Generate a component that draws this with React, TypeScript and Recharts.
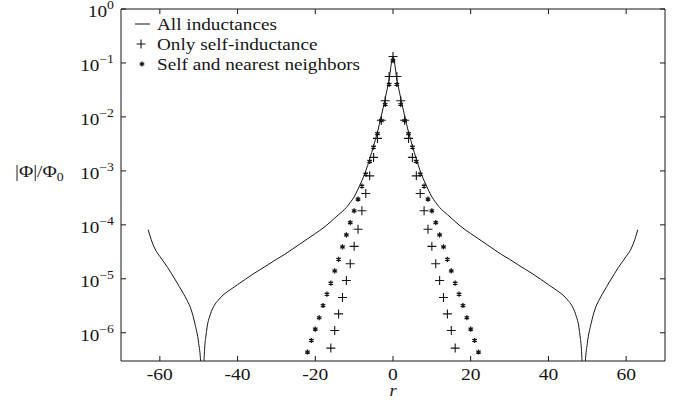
import React from "react";
import { ComposedChart, Line, Scatter, XAxis, YAxis, Legend } from "recharts";

const FONT = '"Liberation Serif", "DejaVu Serif", "Times New Roman", serif';
const INK = "#161616";
const TXT = { fontFamily: FONT };

const xTicks = [-60, -40, -20, 0, 20, 40, 60];
const yTicks = [1e-6, 1e-5, 1e-4, 1e-3, 1e-2, 1e-1, 1];

// "All inductances" curve
const lineR = [
  -63, -62, -61, -60, -58, -56, -54, -53, -52, -51,
  -50, -49.5, -49, -48.6, -48, -47, -46, -45, -44, -42,
  -40, -38, -36, -34, -32, -30, -28, -26, -24, -22,
  -20, -18, -16, -14, -13, -12, -11, -10, -9, -8,
  -7, -6, -5, -4, -3, -2, -1, 0, 1, 2,
  3, 4, 5, 6, 7, 8, 9, 10, 11, 12,
  13, 14, 16, 18, 20, 22, 24, 26, 28, 30,
  32, 34, 36, 38, 40, 42, 44, 45, 46, 47,
  48, 48.6, 49, 49.5, 50, 51, 52, 53, 54, 56,
  58, 60, 61, 62, 63,
];
const lineV = [
  8.1e-5, 4.8e-5, 3.3e-5, 2.6e-5, 1.62e-5, 9.5e-6, 5.4e-6, 4.0e-6, 2.75e-6, 1.5e-6,
  6.3e-7, 2.8e-7, 1e-9, 3.5e-7, 1.05e-6, 2.2e-6, 3.2e-6, 4.0e-6, 4.8e-6, 6.2e-6,
  7.8e-6, 9.8e-6, 1.23e-5, 1.51e-5, 1.86e-5, 2.3e-5, 2.8e-5, 3.5e-5, 4.4e-5, 5.5e-5,
  6.9e-5, 8.7e-5, 1.15e-4, 1.55e-4, 1.78e-4, 2.1e-4, 2.6e-4, 3.3e-4, 4.6e-4, 6.6e-4,
  1.0e-3, 1.66e-3, 2.9e-3, 5.2e-3, 1.05e-2, 2.2e-2, 5.0e-2, 1.32e-1, 5.0e-2, 2.2e-2,
  1.05e-2, 5.2e-3, 2.9e-3, 1.66e-3, 1.0e-3, 6.6e-4, 4.6e-4, 3.3e-4, 2.6e-4, 2.1e-4,
  1.78e-4, 1.55e-4, 1.15e-4, 8.7e-5, 6.9e-5, 5.5e-5, 4.4e-5, 3.5e-5, 2.8e-5, 2.3e-5,
  1.86e-5, 1.51e-5, 1.23e-5, 9.8e-6, 7.8e-6, 6.2e-6, 4.8e-6, 4.0e-6, 3.2e-6, 2.2e-6,
  1.05e-6, 3.5e-7, 1e-9, 2.8e-7, 6.3e-7, 1.5e-6, 2.75e-6, 4.0e-6, 5.4e-6, 9.5e-6,
  1.62e-5, 2.6e-5, 3.3e-5, 4.8e-5, 8.1e-5,
];

// "Only self-inductance" (+)
const plusR = [
  -16, -15, -14, -13, -12, -11, -10, -9, -8, -7, -6, -5, -4, -3, -2, -1, 0,
  1, 2, 3, 4, 5, 6, 7, 8, 9, 10, 11, 12, 13, 14, 15, 16,
];
const plusV = [
  5.2e-7, 1.1e-6, 2.24e-6, 4.5e-6, 9.3e-6, 1.9e-5, 4.0e-5, 8.3e-5, 1.82e-4, 3.8e-4,
  8.1e-4, 1.78e-3, 4.0e-3, 8.7e-3, 2.0e-2, 5.6e-2, 1.32e-1,
  5.6e-2, 2.0e-2, 8.7e-3, 4.0e-3, 1.78e-3, 8.1e-4, 3.8e-4, 1.82e-4, 8.3e-5, 4.0e-5,
  1.9e-5, 9.3e-6, 4.5e-6, 2.24e-6, 1.1e-6, 5.2e-7,
];

// "Self and nearest neighbors" (*)
const starR = [
  -22, -21, -20, -19, -18, -17, -16, -15, -14, -13, -12, -11, -10, -9, -8, -7, -6,
  -5, -4, -3, -2, -1, 0, 1, 2, 3, 4, 5, 6, 7, 8, 9, 10, 11, 12, 13, 14, 15, 16,
  17, 18, 19, 20, 21, 22,
];
const starV = [
  4.4e-7, 7.2e-7, 1.17e-6, 1.9e-6, 3.2e-6, 5.2e-6, 8.3e-6, 1.4e-5, 2.3e-5, 3.9e-5,
  6.5e-5, 1.1e-4, 1.82e-4, 3.0e-4, 5.2e-4, 8.7e-4, 1.5e-3, 2.75e-3, 4.9e-3, 8.5e-3,
  1.7e-2, 4.0e-2, 1.1e-1, 4.0e-2, 1.7e-2, 8.5e-3, 4.9e-3, 2.75e-3, 1.5e-3, 8.7e-4,
  5.2e-4, 3.0e-4, 1.82e-4, 1.1e-4, 6.5e-5, 3.9e-5, 2.3e-5, 1.4e-5, 8.3e-6, 5.2e-6,
  3.2e-6, 1.9e-6, 1.17e-6, 7.2e-7, 4.4e-7,
];

const lineData = lineR.map((r, i) => ({ r, v: lineV[i] }));
const plusData = plusR.map((r, i) => ({ r, v: plusV[i] }));
const starData = starR.map((r, i) => ({ r, v: starV[i] }));

function PlusShape({ cx, cy }: any) {
  if (cx == null || cy == null) return null;
  const s = 4.5;
  return (
    <path
      d={`M${cx - s},${cy}H${cx + s}M${cx},${cy - s}V${cy + s}`}
      stroke={INK}
      strokeWidth={1.1}
      fill="none"
    />
  );
}

function StarShape({ cx, cy }: any) {
  if (cx == null || cy == null) return null;
  const s = 2.6;
  const dx = s * 0.87;
  const dy = s * 0.5;
  return (
    <path
      d={`M${cx},${cy - s}V${cy + s}M${cx - dx},${cy - dy}L${cx + dx},${cy + dy}M${cx - dx},${cy + dy}L${cx + dx},${cy - dy}`}
      stroke={INK}
      strokeWidth={1.3}
      fill="none"
    />
  );
}

function BottomTick({ x, y, payload }: any) {
  return (
    <g>
      <line x1={x} x2={x} y1={y} y2={y - 5} stroke={INK} />
      <text
        transform={`translate(${x},${y + 19}) scale(1.15,1)`}
        textAnchor="middle"
        style={TXT}
        fontSize={17}
        fill={INK}
      >
        {String(payload.value)}
      </text>
    </g>
  );
}

function TopTick({ x, y }: any) {
  return <line x1={x} x2={x} y1={y} y2={y + 5} stroke={INK} />;
}

function LeftTick({ x, y, payload }: any) {
  const exp = Math.round(Math.log10(payload.value));
  const label = exp < 0 ? `\u2212${-exp}` : `${exp}`;
  return (
    <g>
      <line x1={x} x2={x + 5} y1={y} y2={y} stroke={INK} />
      <text
        transform={`translate(${x - 7},${y + 8}) scale(1.2,1)`}
        textAnchor="end"
        style={TXT}
        fontSize={16}
        fill={INK}
      >
        10
        <tspan dy={-8} fontSize={11.5}>
          {label}
        </tspan>
      </text>
    </g>
  );
}

function RightTick({ x, y }: any) {
  return <line x1={x} x2={x - 5} y1={y} y2={y} stroke={INK} />;
}

function XLabel({ viewBox }: any) {
  const cx = viewBox.x + viewBox.width / 2;
  return (
    <text
      transform={`translate(${cx},${viewBox.y + 35}) scale(1.15,1)`}
      textAnchor="middle"
      style={{ ...TXT, fontStyle: "italic" }}
      fontSize={16}
      fill={INK}
    >
      r
    </text>
  );
}

function YLabel() {
  return (
    <text
      transform="translate(15,177) scale(1.15,1)"
      style={TXT}
      fontSize={17}
      fill={INK}
    >
      |Φ|/Φ
      <tspan dy={4} fontSize={12}>
        0
      </tspan>
    </text>
  );
}

function LegendBox() {
  const items = [
    { label: "All inductances", kind: "line" },
    { label: "Only self-inductance", kind: "plus" },
    { label: "Self and nearest neighbors", kind: "star" },
  ];
  return (
    <svg width={300} height={70}>
      {items.map((it, i) => {
        const cy = 12 + i * 20;
        return (
          <g key={it.label}>
            {it.kind === "line" && (
              <line x1={7} x2={22} y1={cy} y2={cy} stroke={INK} strokeWidth={1} />
            )}
            {it.kind === "plus" && <PlusShape cx={13} cy={cy} />}
            {it.kind === "star" && <StarShape cx={14} cy={cy} />}
            <text
              transform={`translate(29,${cy + 6}) scale(1.13,1)`}
              style={TXT}
              fontSize={17}
              fill={INK}
            >
              {it.label}
            </text>
          </g>
        );
      })}
    </svg>
  );
}

export default function App() {
  return (
    <div style={{ position: "absolute", left: 0, top: 0, background: "#fff", fontFamily: FONT }}>
      <ComposedChart
        width={676}
        height={404}
        margin={{ top: 8, right: 10, bottom: 0, left: 0 }}
      >
        <XAxis
          dataKey="r"
          type="number"
          domain={[-70, 70]}
          ticks={xTicks}
          allowDataOverflow
          height={43}
          tickSize={0}
          tickMargin={0}
          tickLine={false}
          axisLine={{ stroke: INK }}
          tick={<BottomTick />}
          label={<XLabel />}
        />
        <XAxis
          xAxisId="top"
          orientation="top"
          dataKey="r"
          type="number"
          domain={[-70, 70]}
          ticks={xTicks}
          allowDataOverflow
          height={1}
          tickSize={0}
          tickMargin={0}
          tickLine={false}
          axisLine={{ stroke: INK }}
          tick={<TopTick />}
        />
        <YAxis
          dataKey="v"
          scale="log"
          domain={[3e-7, 1]}
          ticks={yTicks}
          allowDataOverflow
          width={121}
          tickSize={0}
          tickMargin={0}
          tickLine={false}
          axisLine={{ stroke: INK }}
          tick={<LeftTick />}
          label={<YLabel />}
        />
        <YAxis
          yAxisId="right"
          orientation="right"
          dataKey="v"
          scale="log"
          domain={[3e-7, 1]}
          ticks={yTicks}
          allowDataOverflow
          width={1}
          tickSize={0}
          tickMargin={0}
          tickLine={false}
          axisLine={{ stroke: INK }}
          tick={<RightTick />}
        />
        <Legend
          layout="vertical"
          align="center"
          verticalAlign="middle"
          content={<LegendBox />}
          wrapperStyle={{ left: 128, top: 12, width: 300, height: 70 }}
        />
        <Line
          data={lineData}
          dataKey="v"
          type="monotone"
          stroke={INK}
          strokeWidth={1}
          dot={false}
          activeDot={false}
          isAnimationActive={false}
        />
        <Scatter
          data={plusData}
          dataKey="v"
          shape={<PlusShape />}
          isAnimationActive={false}
        />
        <Scatter
          data={starData}
          dataKey="v"
          shape={<StarShape />}
          isAnimationActive={false}
        />
      </ComposedChart>
    </div>
  );
}
